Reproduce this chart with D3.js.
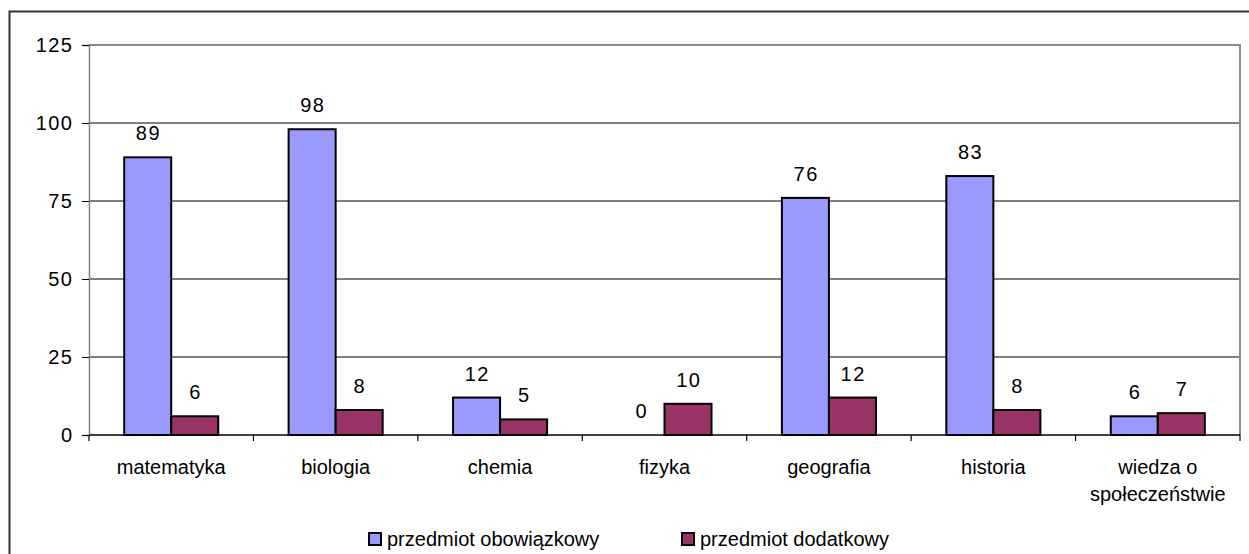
<!DOCTYPE html>
<html><head><meta charset="utf-8">
<script src="https://cdn.jsdelivr.net/npm/d3@7"></script>
<style>body{margin:0;background:#fff;} svg{display:block;font-family:"Liberation Sans",Arial,sans-serif;}</style>
</head><body>
<svg id="c" width="1249" height="554"></svg>
<script>
const categories = [["matematyka"],["biologia"],["chemia"],["fizyka"],["geografia"],["historia"],["wiedza o","społeczeństwie"]];
const seriesNames = ["przedmiot obowiązkowy","przedmiot dodatkowy"];
const obowiazkowy = [89,98,12,0,76,83,6];
const dodatkowy = [6,8,5,10,12,8,7];
const colors = ["#9999FF","#993366"];
const yTicks = [0,25,50,75,100,125];

const svg = d3.select("#c");
const L=89, R=1240, T=45, B=435;
svg.append("rect").attr("x",9.5).attr("y",11.5).attr("width",1260).attr("height",560)
  .attr("fill","#fff").attr("stroke","#333").attr("stroke-width",2);

const x0 = d3.scaleBand().domain(d3.range(categories.length)).range([L,R]).paddingInner(0).paddingOuter(0);
const bw = x0.bandwidth();
const x1 = d3.scaleBand().domain([0,1]).range([bw*0.214, bw*0.786]).padding(0);
const y = d3.scaleLinear().domain([0,125]).range([B,T]);

// gridlines
svg.append("g").selectAll("line").data(yTicks.filter(t=>t>0 && t<125)).join("line")
  .attr("x1",L).attr("x2",R).attr("y1",d=>y(d)).attr("y2",d=>y(d)).attr("stroke","#000").attr("stroke-width",1);
// plot border (gray)
svg.append("path").attr("d",`M${L},${y(125)}H${R}V${B}`).attr("fill","none").attr("stroke","#8c8c8c").attr("stroke-width",2);

// y axis
const ya = svg.append("g").attr("transform",`translate(${L},0)`)
  .call(d3.axisLeft(y).tickValues(yTicks).tickSize(7).tickPadding(8.5));
ya.select(".domain").attr("stroke","#808080").attr("stroke-width",1.5);
ya.selectAll(".tick line").attr("stroke","#000");
ya.selectAll(".tick text").attr("font-size",20).attr("fill","#000").attr("letter-spacing","1.5px")
  .attr("font-family","Liberation Sans, Arial, sans-serif");

// bars
const series = [obowiazkowy, dodatkowy];
series.forEach((vals,si)=>{
  const g = svg.append("g");
  g.selectAll("rect").data(vals).join("rect")
    .attr("x",(d,i)=>x0(i)+x1(si)).attr("width",x1.bandwidth())
    .attr("y",d=>y(d)).attr("height",d=>B-y(d))
    .attr("fill",colors[si]).attr("stroke","#000").attr("stroke-width",2)
    .attr("display",d=>d===0?"none":null);
  g.selectAll("text").data(vals).join("text")
    .attr("x",(d,i)=>x0(i)+x1(si)+x1.bandwidth()/2+0.75).attr("y",d=>y(d)-17)
    .attr("text-anchor","middle").attr("font-size",20).attr("letter-spacing","1.5px").attr("fill","#000").text(d=>d);
});

// x axis
svg.append("line").attr("x1",L).attr("x2",R).attr("y1",B).attr("y2",B).attr("stroke","#000").attr("stroke-width",1.5);
svg.append("g").selectAll("line").data(d3.range(categories.length+1)).join("line")
  .attr("x1",i=>L+i*bw).attr("x2",i=>L+i*bw).attr("y1",B).attr("y2",B+6).attr("stroke","#000").attr("stroke-width",1.2);
const cl = svg.append("g").selectAll("text").data(categories).join("text")
  .attr("x",(d,i)=>x0(i)+bw/2).attr("y",474).attr("text-anchor","middle").attr("font-size",20).attr("fill","#000");
cl.selectAll("tspan").data(d=>d).join("tspan")
  .attr("x",function(){return this.parentNode.getAttribute("x");})
  .attr("dy",(d,i)=>i===0?0:27).text(d=>d);

// legend
const legX = [368, 681];
seriesNames.forEach((n,i)=>{
  svg.append("rect").attr("x",legX[i]+1).attr("y",533).attr("width",12).attr("height",12)
    .attr("fill",colors[i]).attr("stroke","#000").attr("stroke-width",2);
  svg.append("text").attr("x",legX[i]+19).attr("y",546).attr("font-size",20).attr("fill","#000").text(n);
});
</script>
</body></html>
